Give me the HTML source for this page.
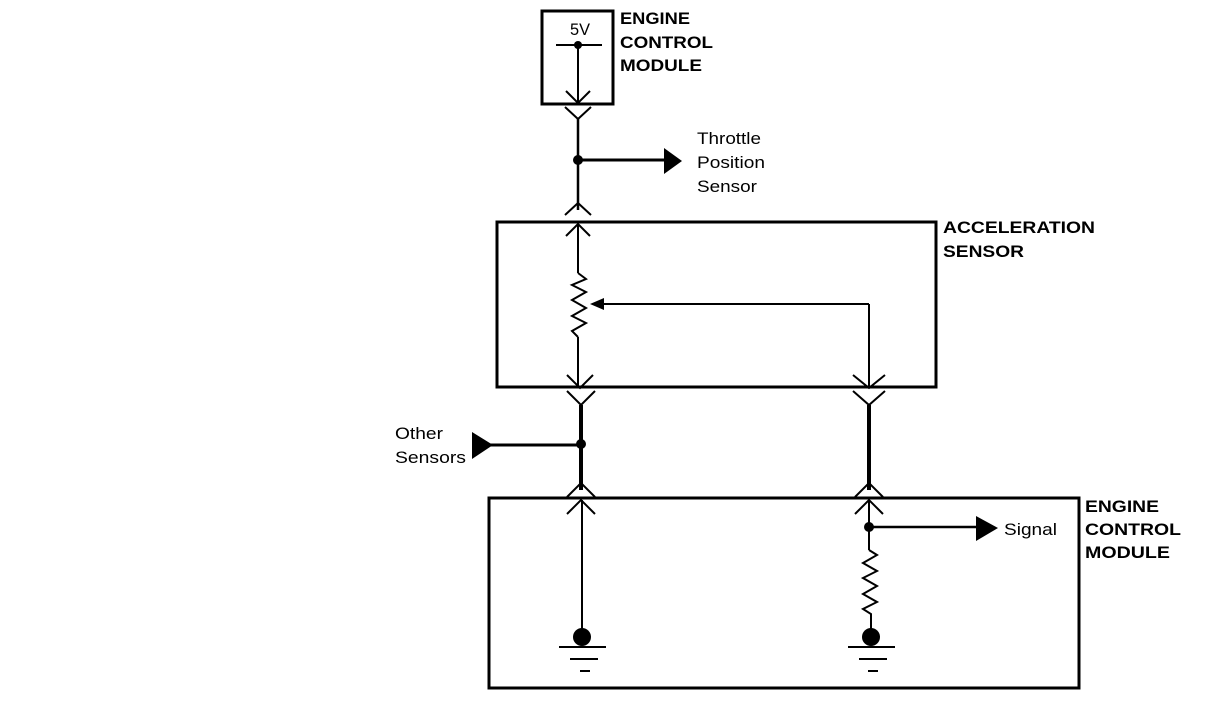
<!DOCTYPE html>
<html><head><style>
html,body{margin:0;padding:0;background:#fff;}
svg{display:block;}
text{font-family:"Liberation Sans",sans-serif;font-size:17px;fill:#000;}
.b{font-weight:bold;}
</style></head><body>
<svg width="1216" height="702" viewBox="0 0 1216 702">
<g fill="none" stroke="#000" stroke-width="2">
<rect x="542" y="11" width="71" height="93" stroke-width="3"/>
<line x1="556" y1="45" x2="602" y2="45"/>
<line x1="578" y1="45" x2="578" y2="103"/>
<polyline points="566,91 578,103 590,91"/>
<polyline points="565,107 578,119 591,107"/>
<line x1="578" y1="119" x2="578" y2="210" stroke-width="2.5"/>
<line x1="578" y1="160" x2="666" y2="160" stroke-width="3"/>
<polyline points="565,215 578,203 591,215"/>
<rect x="497" y="222" width="439" height="165" stroke-width="3"/>
<polyline points="566,236 578,224 590,236"/>
<line x1="578" y1="224" x2="578" y2="273"/>
<polyline points="578,273 586,279 572,285 586,292 572,300 586,308 572,316 586,323 572,331 578,337"/>
<line x1="578" y1="337" x2="578" y2="388"/>
<polyline points="567,375 580,388 593,375"/>
<line x1="869" y1="304" x2="600" y2="304"/>
<line x1="869" y1="304" x2="869" y2="388"/>
<polyline points="853,375 869,388 885,375"/>
<polyline points="567,391 581,405 595,391"/>
<polyline points="853,391 869,405 885,391"/>
<line x1="581" y1="405" x2="581" y2="490" stroke-width="4"/>
<line x1="869" y1="405" x2="869" y2="490" stroke-width="4"/>
<line x1="490" y1="445" x2="581" y2="445" stroke-width="3"/>
<polyline points="567,497 581,483 595,497"/>
<polyline points="855,497 869,483 883,497"/>
<rect x="489" y="498" width="590" height="190" stroke-width="3"/>
<polyline points="567,514 581,500 595,514"/>
<polyline points="855,514 869,500 883,514"/>
<line x1="582" y1="500" x2="582" y2="632"/>
<line x1="559" y1="647" x2="606" y2="647"/>
<line x1="570" y1="659" x2="598" y2="659"/>
<line x1="580" y1="671" x2="590" y2="671"/>
<line x1="869" y1="500" x2="869" y2="550"/>
<line x1="869" y1="527" x2="976" y2="527" stroke-width="2.5"/>
<polyline points="869,550 877,555 863,563 877,571 863,578 877,586 863,594 877,602 863,609 871,614 871,632"/>
<line x1="848" y1="647" x2="895" y2="647"/>
<line x1="859" y1="659" x2="887" y2="659"/>
<line x1="868" y1="671" x2="878" y2="671"/>
</g>
<g fill="#000">
<circle cx="578" cy="45" r="4"/>
<circle cx="578" cy="160" r="5"/>
<polygon points="664,148 682,161 664,174"/>
<polygon points="590,304 604,298 604,310"/>
<circle cx="581" cy="444" r="5"/>
<polygon points="472,432 493,445 472,459"/>
<circle cx="582" cy="637" r="9"/>
<circle cx="869" cy="527" r="5"/>
<circle cx="871" cy="637" r="9"/>
<polygon points="976,516 998,528 976,541"/>
</g>
<text x="570" y="35" textLength="20" lengthAdjust="spacingAndGlyphs">5V</text>
<text class="b" x="620" y="24" textLength="70" lengthAdjust="spacingAndGlyphs">ENGINE</text>
<text class="b" x="620" y="48" textLength="93" lengthAdjust="spacingAndGlyphs">CONTROL</text>
<text class="b" x="620" y="71" textLength="82" lengthAdjust="spacingAndGlyphs">MODULE</text>
<text x="697" y="144" textLength="64" lengthAdjust="spacingAndGlyphs">Throttle</text>
<text x="697" y="168" textLength="68" lengthAdjust="spacingAndGlyphs">Position</text>
<text x="697" y="192" textLength="60" lengthAdjust="spacingAndGlyphs">Sensor</text>
<text class="b" x="943" y="233" textLength="152" lengthAdjust="spacingAndGlyphs">ACCELERATION</text>
<text class="b" x="943" y="257" textLength="81" lengthAdjust="spacingAndGlyphs">SENSOR</text>
<text x="395" y="439" textLength="48" lengthAdjust="spacingAndGlyphs">Other</text>
<text x="395" y="463" textLength="71" lengthAdjust="spacingAndGlyphs">Sensors</text>
<text class="b" x="1085" y="512" textLength="74" lengthAdjust="spacingAndGlyphs">ENGINE</text>
<text class="b" x="1085" y="535" textLength="96" lengthAdjust="spacingAndGlyphs">CONTROL</text>
<text class="b" x="1085" y="558" textLength="85" lengthAdjust="spacingAndGlyphs">MODULE</text>
<text x="1004" y="535" textLength="53" lengthAdjust="spacingAndGlyphs">Signal</text>
</svg>
</body></html>
